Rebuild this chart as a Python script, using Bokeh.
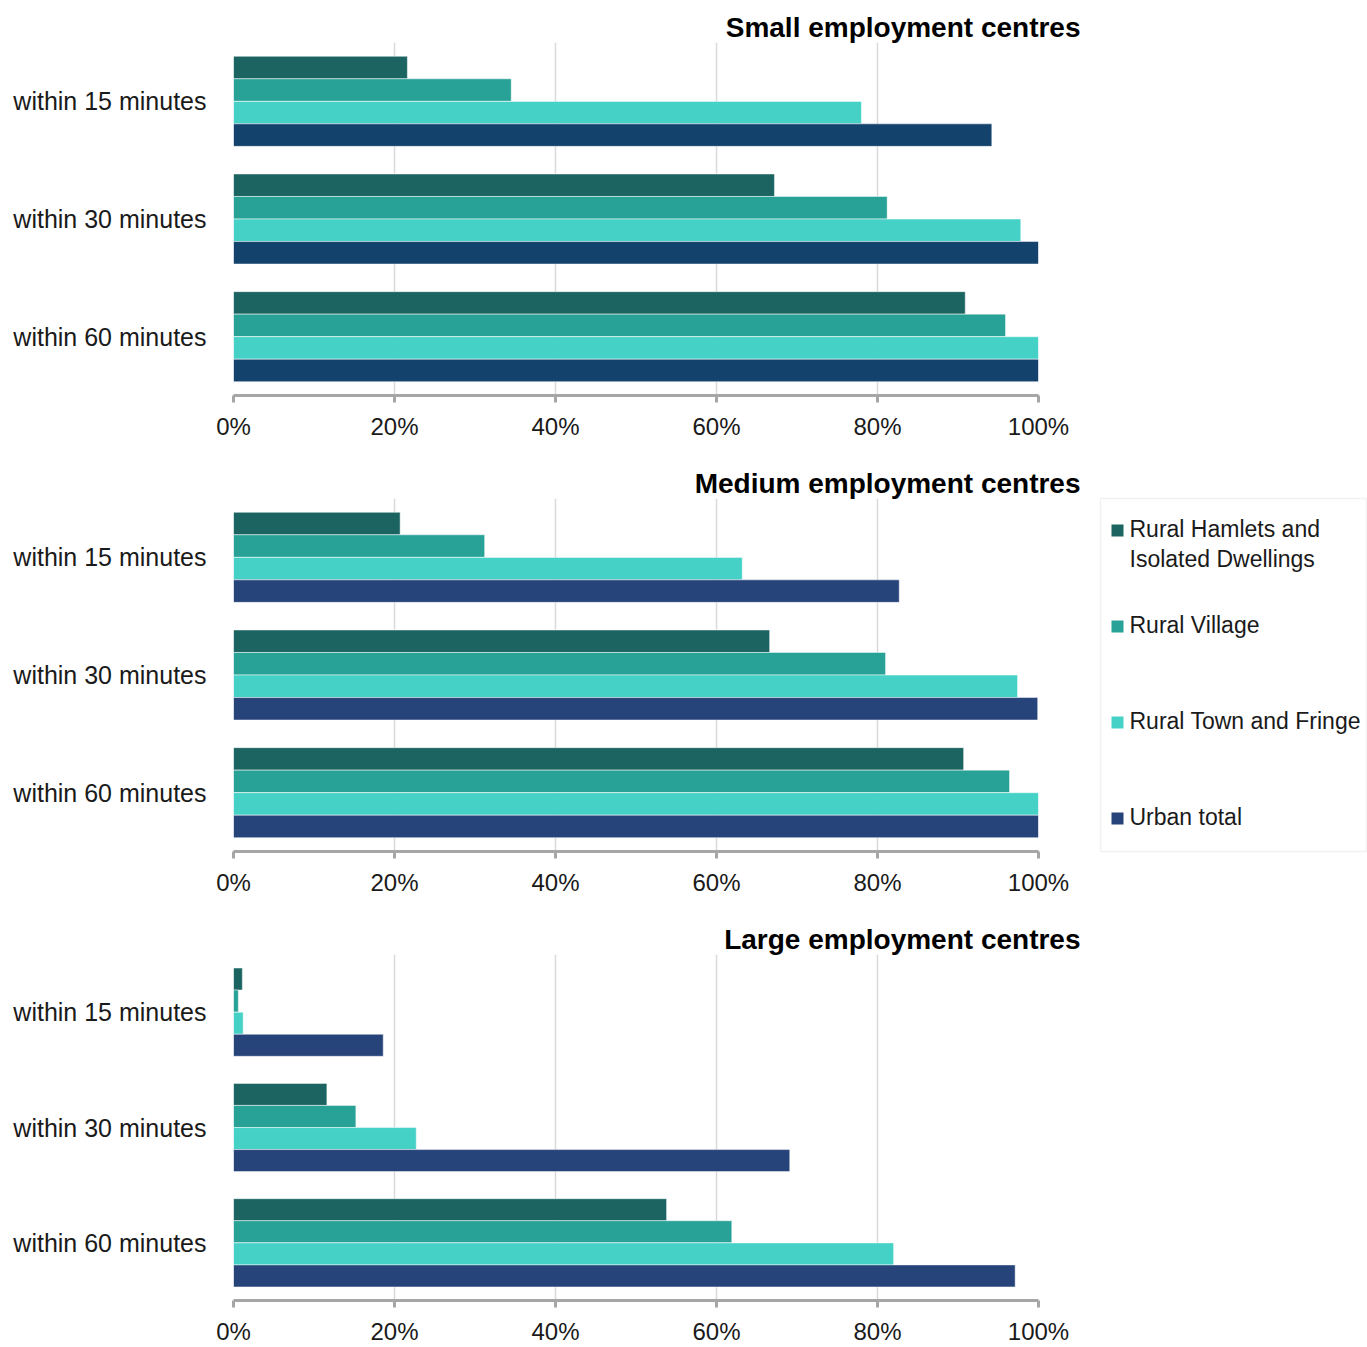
from bokeh.plotting import figure
from bokeh.layouts import column, row
from bokeh.models import Range1d, FactorRange, FixedTicker, PrintfTickFormatter, ColumnDataSource
from bokeh.transform import dodge
from bokeh.core.properties import value
from bokeh.embed import file_html
from bokeh.resources import INLINE

categories = ["within 15 minutes", "within 30 minutes", "within 60 minutes"]
series = ["Rural Hamlets and Isolated Dwellings", "Rural Village", "Rural Town and Fringe", "Urban total"]
legend_labels = ["Rural Hamlets and\nIsolated Dwellings", "Rural Village", "Rural Town and Fringe", "Urban total"]
panel_titles = ["Small employment centres", "Medium employment centres", "Large employment centres"]
x_ticks = [0, 20, 40, 60, 80, 100]

small_hamlets = [21.6, 67.2, 90.9]
small_village = [34.5, 81.2, 95.9]
small_town = [78.0, 97.8, 100.0]
small_urban = [94.2, 100.0, 100.0]

medium_hamlets = [20.7, 66.6, 90.7]
medium_village = [31.2, 81.0, 96.4]
medium_town = [63.2, 97.4, 100.0]
medium_urban = [82.7, 99.9, 100.0]

large_hamlets = [1.1, 11.6, 53.8]
large_village = [0.6, 15.2, 61.9]
large_town = [1.2, 22.7, 82.0]
large_urban = [18.6, 69.1, 97.1]

colors_small = ["#1B6461", "#28A196", "#45D1C6", "#13426D"]
colors_other = ["#1B6461", "#28A196", "#45D1C6", "#26437A"]

FONT = "Liberation Sans"
TEXT_COLOR = "#1A1A1A"


def make_panel(title, vals, colors, height, bottom):
    p = figure(width=1090, height=height,
               y_range=FactorRange(factors=categories[::-1]),
               x_range=Range1d(0, 100),
               output_backend="svg", toolbar_location=None,
               min_border_left=233, min_border_right=52,
               min_border_top=42, min_border_bottom=bottom)
    data = {"cat": categories}
    for i, v in enumerate(vals):
        data["s%d" % i] = v
    src = ColumnDataSource(data)
    offsets = [0.287, 0.096, -0.096, -0.287]
    for i, (off, c) in enumerate(zip(offsets, colors)):
        p.hbar(y=dodge("cat", off, range=p.y_range), left=0, right="s%d" % i,
               height=0.191, source=src, fill_color=c,
               line_color="white", line_width=0.8, line_alpha=0.6)

    p.title.text = title
    p.title.align = "right"
    p.title.text_font = FONT
    p.title.text_font_size = "28px"
    p.title.text_font_style = "bold"
    p.title.text_color = "#000000"
    p.title.offset = -42
    p.title.standoff = 0

    p.outline_line_color = None
    p.ygrid.grid_line_color = None
    p.xgrid.ticker = FixedTicker(ticks=x_ticks)
    p.xgrid.grid_line_color = "#D9D9D9"
    p.xgrid.grid_line_width = 1.5

    xa = p.xaxis[0]
    xa.ticker = FixedTicker(ticks=x_ticks)
    xa.formatter = PrintfTickFormatter(format="%d%%")
    xa.axis_line_color = "#A6A6A6"
    xa.axis_line_width = 3
    xa.major_tick_line_color = "#A6A6A6"
    xa.major_tick_line_width = 3
    xa.major_tick_out = 7
    xa.major_tick_in = 0
    xa.minor_tick_line_color = None
    xa.major_label_standoff = 10
    xa.major_label_text_font = FONT
    xa.major_label_text_font_size = "24px"
    xa.major_label_text_color = TEXT_COLOR

    ya = p.yaxis[0]
    ya.axis_line_color = None
    ya.major_tick_line_color = None
    ya.minor_tick_line_color = None
    ya.major_label_standoff = 21
    ya.major_label_text_font = FONT
    ya.major_label_text_font_size = "25px"
    ya.major_label_text_color = TEXT_COLOR
    return p


p1 = make_panel(panel_titles[0], [small_hamlets, small_village, small_town, small_urban],
                colors_small, 456, 61)
p2 = make_panel(panel_titles[1], [medium_hamlets, medium_village, medium_town, medium_urban],
                colors_other, 456, 61)
p3 = make_panel(panel_titles[2], [large_hamlets, large_village, large_town, large_urban],
                colors_other, 435, 40)

# Legend panel (its frame lines up with the middle chart's frame)
lg = figure(width=277, height=456, x_range=Range1d(0, 267), y_range=Range1d(353, 0),
            output_backend="svg", toolbar_location=None,
            min_border_left=10, min_border_right=0, min_border_top=42, min_border_bottom=61)
lg.axis.visible = False
lg.grid.grid_line_color = None
lg.outline_line_color = "#F2F2F2"
lg.outline_line_width = 1.5

centers = [32 + 96 * i for i in range(len(series))]
lsrc = ColumnDataSource(dict(
    x=[17] * len(series),
    y=centers,
    tx=[29] * len(series),
    ty=[c - 15 for c in centers],
    label=legend_labels,
    color=colors_other,
    name=series,
))
lg.scatter(x="x", y="y", marker="square", size=12, fill_color="color",
           line_color=None, source=lsrc)
lg.text(x="tx", y="ty", text="label", source=lsrc, text_baseline="top",
        text_align="left", text_font=value(FONT), text_font_size="23px",
        text_color=TEXT_COLOR, text_line_height=1.17)

layout = column(p1, row(p2, lg), p3)

open("out.html", "w").write(file_html(layout, INLINE))
